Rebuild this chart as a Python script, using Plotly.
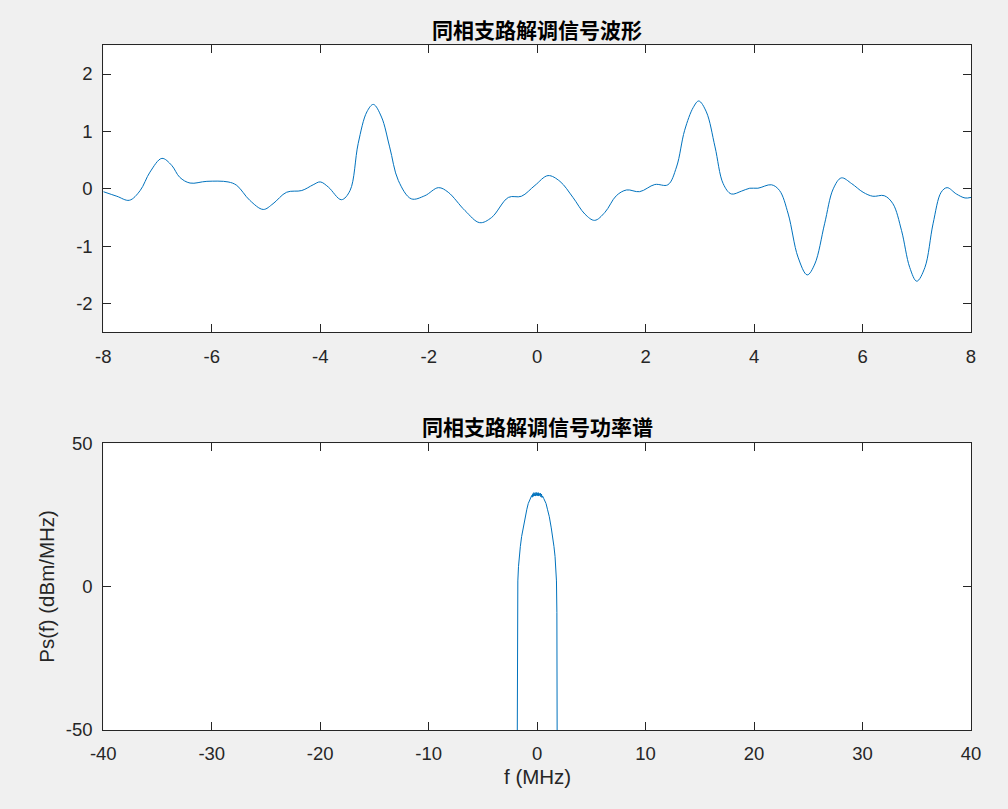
import plotly.graph_objects as go

# ---- top: in-phase demodulated waveform ----
t_vals = [-8.0, -7.75, -7.52, -7.32, -7.14, -6.92, -6.74, -6.59, -6.40, -6.09, -5.70, -5.54,
          -5.30, -5.05, -4.87, -4.62, -4.34, -4.13, -4.0, -3.85, -3.61, -3.45, -3.30, -3.14,
          -3.02, -2.87, -2.72, -2.56, -2.32, -2.07, -1.82, -1.64, -1.33, -1.06, -0.84, -0.53,
          -0.29, -0.04, 0.20, 0.42, 0.66, 0.88, 1.06, 1.25, 1.46, 1.65, 1.89, 2.17, 2.41,
          2.57, 2.72, 2.88, 2.98, 3.12, 3.28, 3.43, 3.58, 3.77, 3.92, 4.07, 4.32, 4.47, 4.63,
          4.81, 4.98, 5.12, 5.30, 5.46, 5.61, 5.80, 6.01, 6.19, 6.40, 6.56, 6.72, 6.87, 7.00,
          7.15, 7.30, 7.45, 7.56, 7.73, 7.89, 8.0]
s_vals = [-0.05, -0.13, -0.20, -0.03, 0.29, 0.53, 0.41, 0.20, 0.10, 0.13, 0.12, 0.06,
          -0.20, -0.36, -0.26, -0.06, -0.03, 0.07, 0.12, 0.03, -0.19, -0.03, 0.79, 1.34,
          1.47, 1.25, 0.73, 0.145, -0.175, -0.12, 0.02, -0.06, -0.38, -0.59, -0.50, -0.15,
          -0.13, 0.06, 0.23, 0.13, -0.15, -0.44, -0.55, -0.41, -0.12, -0.02, -0.05, 0.075, 0.07,
          0.38, 1.02, 1.42, 1.53, 1.34, 0.73, 0.09, -0.09, -0.04, 0.01, 0.01, 0.07, -0.03, -0.44,
          -1.19, -1.50, -1.31, -0.61, 0.0, 0.19, 0.09, -0.06, -0.13, -0.12, -0.26, -0.73, -1.37, -1.61,
          -1.37, -0.61, -0.06, 0.02, -0.09, -0.16, -0.15]

# ---- bottom: power spectrum (dBm/MHz) ----
f_vals = [-1.86, -1.85, -1.84, -1.82, -1.78, -1.72, -1.65, -1.55, -1.43, -1.30, -1.12, -0.95,
          -0.82, -0.60, -0.50, -0.45, -0.40, -0.35, -0.30, -0.25, -0.20, -0.15, -0.10, -0.05,
          0.0, 0.05, 0.10, 0.15, 0.20, 0.25, 0.30, 0.35, 0.40, 0.45, 0.50, 0.60, 0.82, 0.95,
          1.12, 1.30, 1.43, 1.55, 1.65, 1.72, 1.78, 1.82, 1.84, 1.85, 1.86]
p_vals = [-80, -40, -20, -9, 2, 7, 10.5, 14, 17.5, 20.5, 24.4, 27,
          29, 31, 31.8, 31.2, 32.4, 31.5, 32.8, 31.7, 32.6, 31.6, 32.9, 31.8,
          32.7, 31.7, 32.8, 31.6, 32.5, 31.8, 32.6, 31.3, 32.3, 31.1, 31.6, 30.8, 29, 27,
          24.4, 20.5, 17.5, 14, 10.5, 7, 2, -9, -20, -40, -80]

top_x_ticks = [-8, -6, -4, -2, 0, 2, 4, 6, 8]
top_x_text = ["-8", "-6", "-4", "-2", "0", "2", "4", "6", "8"]
top_y_ticks = [-2, -1, 0, 1, 2]
top_y_text = ["-2", "-1", "0", "1", "2"]
bot_x_ticks = [-40, -30, -20, -10, 0, 10, 20, 30, 40]
bot_x_text = ["-40", "-30", "-20", "-10", "0", "10", "20", "30", "40"]
bot_y_ticks = [-50, 0, 50]
bot_y_text = ["-50", "0", "50"]

title_top = "同相支路解调信号波形"
title_bot = "同相支路解调信号功率谱"
xlabel_bot = "f (MHz)"
ylabel_bot = "Ps(f) (dBm/MHz)"

line_color = "#0072BD"
axis_color = "#262626"
latin = "Liberation Sans, Arial, Helvetica, sans-serif"
tick_font = dict(family=latin, size=18.5, color=axis_color)
cjk = "Noto Sans CJK SC, sans-serif"

W, H = 1008, 809
fig = go.Figure()
fig.add_trace(go.Scatter(x=t_vals, y=s_vals, mode="lines", xaxis="x", yaxis="y",
                         line=dict(color=line_color, width=1, shape="spline", smoothing=1.0),
                         showlegend=False, hoverinfo="skip"))
fig.add_trace(go.Scatter(x=f_vals, y=p_vals, mode="lines", xaxis="x2", yaxis="y2",
                         line=dict(color=line_color, width=1), showlegend=False, hoverinfo="skip"))

xd = [103.3 / W, 971.0 / W]
top_yd = [(H - 332.3) / H, (H - 45.3) / H]
bot_yd = [(H - 730.0) / H, (H - 443.3) / H]

common = dict(showgrid=False, zeroline=False, showline=True, linecolor=axis_color, linewidth=1,
              mirror="ticks", ticks="inside", ticklen=8, tickcolor=axis_color, tickwidth=1,
              tickfont=tick_font, automargin=False, tickmode="array")

fig.update_layout(
    width=W, height=H,
    paper_bgcolor="#f0f0f0", plot_bgcolor="white",
    margin=dict(l=0, r=0, t=0, b=0),
    xaxis=dict(domain=xd, range=[-8, 8], tickvals=top_x_ticks, ticktext=top_x_text, anchor="y",
               ticklabelstandoff=7, **common),
    yaxis=dict(domain=top_yd, range=[-2.5, 2.5], tickvals=top_y_ticks, ticktext=top_y_text, anchor="x",
               ticklabelstandoff=6, **common),
    xaxis2=dict(domain=xd, range=[-40, 40], tickvals=bot_x_ticks, ticktext=bot_x_text, anchor="y2",
                ticklabelstandoff=7, **common),
    yaxis2=dict(domain=bot_yd, range=[-50, 50], tickvals=bot_y_ticks, ticktext=bot_y_text, anchor="x2",
                ticklabelstandoff=6, **common),
    annotations=[
        dict(text="<b>" + title_top + "</b>", x=537 / W, y=(H - 29) / H, xref="paper", yref="paper",
             showarrow=False, font=dict(family=cjk, size=21, color="black"), xanchor="center", yanchor="middle"),
        dict(text="<b>" + title_bot + "</b>", x=537 / W, y=(H - 426) / H, xref="paper", yref="paper",
             showarrow=False, font=dict(family=cjk, size=21, color="black"), xanchor="center", yanchor="middle"),
        dict(text=xlabel_bot, x=537 / W, y=(H - 776) / H, xref="paper", yref="paper",
             showarrow=False, font=dict(family=latin, size=20.5, color=axis_color),
             xanchor="center", yanchor="middle"),
        dict(text=ylabel_bot, x=47 / W, y=(H - 586.7) / H, xref="paper", yref="paper", textangle=-90,
             showarrow=False, font=dict(family=latin, size=20.5, color=axis_color),
             xanchor="center", yanchor="middle"),
    ],
)

fig.write_html("out.html", config={"displayModeBar": False},
               post_script="document.body.style.margin='0';document.body.style.overflow='hidden';"
                           "document.body.style.background='#f0f0f0';")
